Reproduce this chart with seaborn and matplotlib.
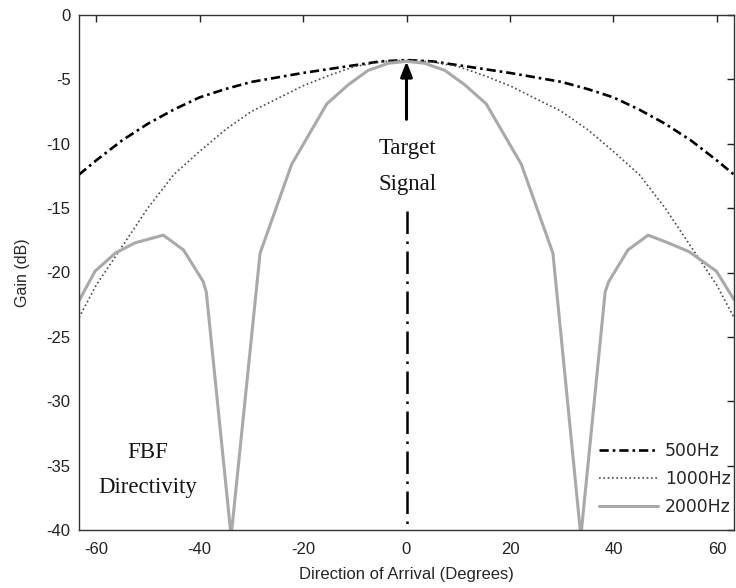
import numpy as np
import pandas as pd
import matplotlib
matplotlib.use("Agg")
import matplotlib.pyplot as plt
import seaborn as sns

# ---- data ----
angle_500 = [-63.3, -60, -55, -50, -45, -40, -35, -30, -25, -20, -15, -10, -5, 0,
             5, 10, 15, 20, 25, 30, 35, 40, 45, 50, 55, 60, 63.3]
gain_500 = [-12.4, -11.3, -9.75, -8.45, -7.35, -6.4, -5.75, -5.2, -4.85, -4.5, -4.2, -3.9, -3.6, -3.5,
            -3.6, -3.9, -4.2, -4.5, -4.85, -5.2, -5.75, -6.4, -7.35, -8.45, -9.75, -11.3, -12.4]

angle_1000 = [-63.3, -60, -55, -50, -45, -40, -35, -30, -25, -20, -15, -10, -5, 0,
              5, 10, 15, 20, 25, 30, 35, 40, 45, 50, 55, 60, 63.3]
gain_1000 = [-23.5, -21.0, -18.0, -15.0, -12.4, -10.6, -8.9, -7.5, -6.5, -5.5, -4.7, -4.0, -3.65, -3.5,
             -3.65, -4.0, -4.7, -5.5, -6.5, -7.5, -8.9, -10.6, -12.4, -15.0, -18.0, -21.0, -23.5]

angle_2000 = [-63.3, -60.2, -56.3, -52.5, -47.0, -43.1, -39.3, -38.7, -33.9, -28.3, -22.2, -15.4,
              -11.2, -7.4, -3.5, 0, 3.5, 7.4, 11.2, 15.4, 22.2, 28.3, 33.7, 38.4, 39.1, 42.8,
              46.7, 50.6, 54.7, 59.9, 63.3]
gain_2000 = [-22.2, -19.9, -18.5, -17.7, -17.1, -18.25, -20.7, -21.5, -40.5, -18.5, -11.6, -6.9,
             -5.4, -4.3, -3.75, -3.6, -3.75, -4.3, -5.4, -6.9, -11.6, -18.5, -40.5, -21.5, -20.7, -18.25,
             -17.1, -17.7, -18.4, -19.9, -22.1]

series_labels = ["500Hz", "1000Hz", "2000Hz"]
x_ticks = [-60, -40, -20, 0, 20, 40, 60]
y_ticks = [0, -5, -10, -15, -20, -25, -30, -35, -40]

sns.set_style("white")
plt.rcParams['font.family'] = ['Liberation Sans', 'DejaVu Sans']

fig = plt.figure(figsize=(7.36, 5.88), dpi=100)
ax = fig.add_axes([79 / 736, 58 / 588, 655 / 736, 515 / 588])

df500 = pd.DataFrame({"angle": angle_500, "gain": gain_500})
df1000 = pd.DataFrame({"angle": angle_1000, "gain": gain_1000})
df2000 = pd.DataFrame({"angle": angle_2000, "gain": gain_2000})

sns.lineplot(data=df500, x="angle", y="gain", ax=ax, sort=False, color="black",
             linewidth=1.9, linestyle=(0, (3.5, 1.5, 1, 1.5)), label=series_labels[0])
sns.lineplot(data=df1000, x="angle", y="gain", ax=ax, sort=False, color="#4a4a4a",
             linewidth=1.2, linestyle=(0, (1, 1.6)), label=series_labels[1])
sns.lineplot(data=df2000, x="angle", y="gain", ax=ax, sort=False, color="#a9a9a9",
             linewidth=2.2, linestyle="-", label=series_labels[2])

# target direction marker
ax.plot([0, 0], [-15.2, -40], color="black", linewidth=1.8,
        linestyle=(0, (9, 3, 1, 3)), zorder=3)
ax.annotate("", xy=(0, -3.6), xytext=(0, -8.1),
            arrowprops=dict(arrowstyle="-|>,head_width=0.35,head_length=0.9",
                            color="black", linewidth=2.2, shrinkA=0, shrinkB=0))

serif = ['Liberation Serif', 'DejaVu Serif']
tcol = "#151515"
ax.text(0.2, -10.35, "Target", ha="center", va="center", fontsize=16.5, family=serif, color=tcol)
ax.text(0.2, -13.2, "Signal", ha="center", va="center", fontsize=16.5, family=serif, color=tcol)
ax.text(-50.1, -34.0, "FBF", ha="center", va="center", fontsize=16.5, family=serif, color=tcol)
ax.text(-50.1, -36.7, "Directivity", ha="center", va="center", fontsize=16.5, family=serif, color=tcol)

ax.set_xlim(-63.3, 63.3)
ax.set_ylim(-40, 0)
ax.set_xticks(x_ticks)
ax.set_yticks(y_ticks)
ax.set_xticklabels([str(v) for v in x_ticks])
ax.set_yticklabels([str(v) for v in y_ticks])
ax.tick_params(direction="in", length=5, width=1, top=True, right=True,
               labelsize=12, colors="#222222")
ax.tick_params(axis="x", pad=9)
ax.tick_params(axis="y", pad=6)
for s in ax.spines.values():
    s.set_color("#333333")
    s.set_linewidth(1.0)

ax.set_xlabel("Direction of Arrival (Degrees)", fontsize=12, labelpad=7)
ax.set_ylabel("Gain (dB)", fontsize=11.5, labelpad=12)

leg = ax.legend(loc="lower right", bbox_to_anchor=(1.0, 0.02), frameon=False,
                prop={"family": "DejaVu Sans", "size": 12.4},
                handlelength=3.4, handletextpad=0.4,
                labelspacing=0.6, borderpad=0, borderaxespad=0.2)

fig.savefig("out.png", dpi=100, facecolor="white")
